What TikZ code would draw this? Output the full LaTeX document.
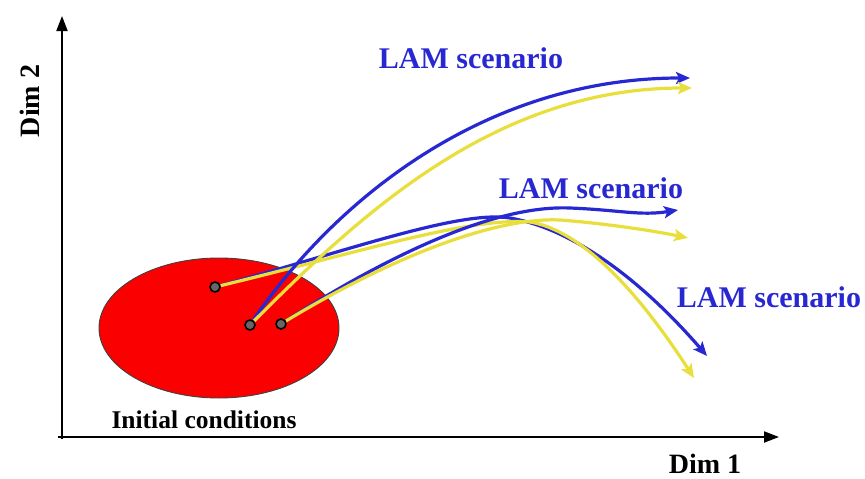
\documentclass[tikz,border=0pt]{standalone}
\usepackage{fontspec}
\setmainfont{Liberation Serif}
\usetikzlibrary{arrows.meta,backgrounds,shapes.geometric}
\definecolor{lamblue}{RGB}{40,40,210}
\definecolor{lamyellow}{RGB}{232,222,60}
\definecolor{icred}{RGB}{250,0,0}
\tikzset{
  axis/.style={line width=2pt,-{Triangle[length=15pt,width=11pt]}},
  bluepath/.style={draw=lamblue,line width=3.2pt,-{Stealth[length=14pt,width=12pt,inset=3pt]}},
  yellowpath/.style={draw=lamyellow,line width=3.2pt,-{Stealth[length=14pt,width=12pt,inset=3pt]}},
  dotnode/.style={circle,draw=black,line width=1.6pt,fill=black!60,inner sep=0pt,minimum size=10pt},
  lamlabel/.style={text=lamblue,font=\bfseries\fontsize{30}{33}\selectfont,inner sep=0pt},
  axlabel/.style={text=black,font=\bfseries\fontsize{28}{31}\selectfont,inner sep=0pt},
  iclabel/.style={text=black,font=\bfseries\fontsize{25.5}{28}\selectfont,inner sep=0pt}
}
\begin{document}
\begin{tikzpicture}[x=1pt,y=-1pt]
\path[use as bounding box] (0,0) rectangle (865,479);
% axes
\coordinate (o) at (62,439);
\coordinate (yt) at (62,16);
\coordinate (xs) at (58,437);
\coordinate (xt) at (779,437);
\draw[axis] (o) -- (yt);
\draw[axis] (xs) -- (xt);
\node[axlabel,rotate=90] (dim2) at (30,101) {Dim 2};
\node[axlabel] (dim1) at (705,464) {Dim 1};
% dots
\node[dotnode] (d1) at (215,287) {};
\node[dotnode] (d2) at (250,325) {};
\node[dotnode] (d3) at (281,324) {};
% end points
\coordinate (e1b) at (690,78);
\coordinate (e1y) at (692,88);
\coordinate (e2b) at (678,210);
\coordinate (e2y) at (688,238);
\coordinate (e3b) at (707,356);
\coordinate (e3y) at (694,378);
\begin{scope}[on background layer]
\node[ellipse,draw=black!75,line width=0.9pt,fill=icred,minimum width=240pt,minimum height=140pt,inner sep=0pt] (ic) at (219,328) {};
\draw[bluepath] (d1) .. controls (350,250) and (460,210) .. (510,218) .. controls (580,230) and (650,290) .. (e3b);
\draw[yellowpath] (d1) .. controls (360,252) and (470,217) .. (530,222) .. controls (590,232) and (650,310) .. (e3y);
\draw[bluepath] (d3) .. controls (400,248) and (500,205) .. (570,208) .. controls (620,210) and (640,216) .. (e2b);
\draw[yellowpath] (d3) .. controls (400,252) and (500,217) .. (560,220) .. controls (600,223) and (650,230) .. (e2y);
\draw[bluepath] (d2) .. controls (335,200) and (485,78) .. (e1b);
\draw[yellowpath] (d2) .. controls (360,215) and (495,88) .. (e1y);
\end{scope}
\node[lamlabel] (l1) at (471,58) {LAM scenario};
\node[lamlabel] (l2) at (591,188) {LAM scenario};
\node[lamlabel] (l3) at (769,297) {LAM scenario};
\node[iclabel] (icl) at (204,420) {Initial conditions};
\end{tikzpicture}
\end{document}
